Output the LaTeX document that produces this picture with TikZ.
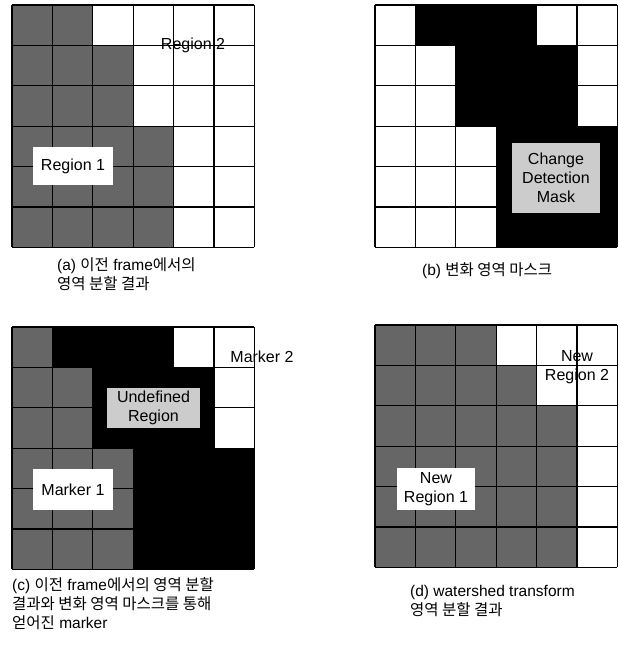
\documentclass[tikz,border=0pt]{standalone}
\usepackage{fontspec}
\setmainfont{Liberation Sans}
\newfontfamily\kr{Noto Sans CJK KR}
\usetikzlibrary{positioning}
\colorlet{cellg}{black!60}
\colorlet{cellw}{white}
\colorlet{cellb}{black}
\colorlet{maskgray}{black!20}
\newcommand{\cellsz}{40.4}
\newcommand{\lblfont}{\fontsize{16}{19}\selectfont}
\tikzset{
  gridline/.style={black, line width=1.2pt},
  labelbox/.style={fill=white, inner sep=0pt, align=center, font=\lblfont},
  graybox/.style={labelbox, fill=maskgray},
  plainlab/.style={inner sep=0pt, align=center, font=\lblfont},
  caption/.style={anchor=north west, align=left, inner sep=0pt,
                  font=\fontsize{15.5}{19}\selectfont},
}
% one 6x6 panel: left, top, rows of cells (g = region, w = white, b = mask)
\newcommand{\gridpanel}[3]{%
  \begin{scope}[shift={(#1,#2)}]
    \foreach \cells [count=\r from 0] in {#3}{
      \foreach \c [count=\k from 0] in \cells
        \fill[fill=cell\c] (\k*\cellsz,\r*\cellsz) rectangle ++(\cellsz,\cellsz);
    }
    \foreach \i in {0,...,6}{
      \draw[gridline] (\i*\cellsz,0) -- (\i*\cellsz,6*\cellsz);
      \draw[gridline] (0,\i*\cellsz) -- (6*\cellsz,\i*\cellsz);
    }
  \end{scope}}
\begin{document}
\begin{tikzpicture}[x=1pt,y=-1pt]
  \path[use as bounding box] (0,0) rectangle (619,646);

  % (a) previous segmentation
  \gridpanel{12}{5}{{g,g,w,w,w,w},{g,g,g,w,w,w},{g,g,g,w,w,w},
    {g,g,g,g,w,w},{g,g,g,g,w,w},{g,g,g,g,w,w}}
  \node[plainlab] (reg2) at (193,45) {Region 2};
  \node[labelbox, minimum width=80, minimum height=38] (reg1) at (73,166) {Region 1};
  \node[caption] (capa) at (57,257)
    {(a) {\kr 이전} frame{\kr 에서의}\\{\kr 영역 분할 결과}};

  % (b) change detection mask
  \gridpanel{375}{5}{{w,b,b,b,w,w},{w,w,b,b,b,w},{w,w,b,b,b,w},
    {w,w,w,b,b,b},{w,w,w,b,b,b},{w,w,w,b,b,b}}
  \node[graybox, minimum width=88, minimum height=70] (mask) at (556,178)
    {Change\\Detection\\Mask};
  \node[caption] (capb) at (422,262) {(b) {\kr 변화 영역 마스크}};

  % (c) markers
  \gridpanel{12}{327}{{g,b,b,b,w,w},{g,g,b,b,b,w},{g,g,b,b,b,w},
    {g,g,g,b,b,b},{g,g,g,b,b,b},{g,g,g,b,b,b}}
  \node[plainlab] (mark2) at (262,357) {Marker 2};
  \node[graybox, minimum width=93, minimum height=40] (undef) at (153.5,408)
    {Undefined\\Region};
  \node[labelbox, minimum width=80, minimum height=41] (mark1) at (73,489.5) {Marker 1};
  \node[caption] (capc) at (12,577)
    {(c) {\kr 이전} frame{\kr 에서의 영역 분할}\\{\kr 결과와 변화 영역 마스크를 통해}\\{\kr 얻어진} marker};

  % (d) watershed result
  \gridpanel{375}{325}{{g,g,g,w,w,w},{g,g,g,g,w,w},{g,g,g,g,g,w},
    {g,g,g,g,g,w},{g,g,g,g,g,w},{g,g,g,g,g,w}}
  \node[plainlab] (nreg2) at (577,367) {New\\Region 2};
  \node[labelbox, minimum width=78, minimum height=42] (nreg1) at (436,489)
    {New\\Region 1};
  \node[caption] (capd) at (410,585)
    {(d) watershed transform\\{\kr 영역 분할 결과}};
\end{tikzpicture}
\end{document}
